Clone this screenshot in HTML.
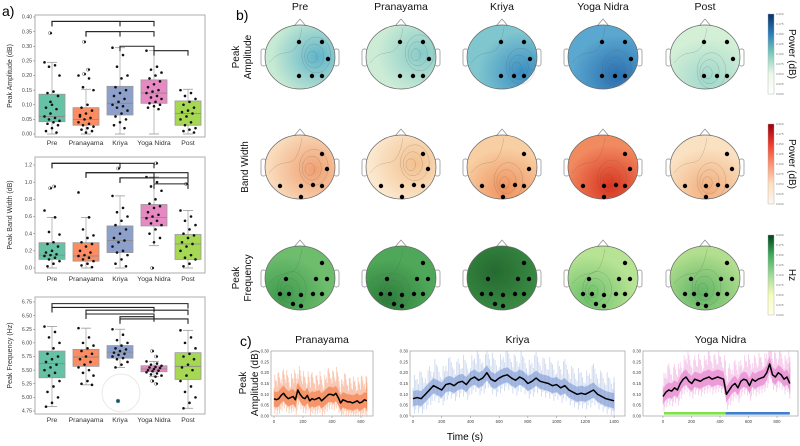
<!DOCTYPE html>
<html><head><meta charset="utf-8"><style>
html,body{margin:0;padding:0;background:#fff;}
svg{display:block;font-family:"Liberation Sans",sans-serif;}
</style></head><body>
<svg id="fig" width="800" height="446" viewBox="0 0 800 446" xmlns="http://www.w3.org/2000/svg">
<defs id="defs"></defs>
<text x="2" y="16" font-size="14">a)</text>
<text x="236" y="20" font-size="14">b)</text>
<text x="240" y="346" font-size="14">c)</text>
<g id="boxes"></g>
<g id="topos"></g>
<g id="ts"></g>
<text x="465" y="440" font-size="10" text-anchor="middle">Time (s)</text>
</svg>
<script>
// ---------- Panel a data ----------
const categories = ["Pre","Pranayama","Kriya","Yoga Nidra","Post"];
const boxColors = ["#66c2a5","#fc8d62","#8da0cb","#e78ac3","#a6d854"];
// [lowWhisker, q1, median, q3, highWhisker]
const ampStats = [[0,0.042,0.06,0.136,0.245],[0,0.03,0.05,0.09,0.153],[0,0.065,0.105,0.163,0.295],[0,0.105,0.14,0.185,0.285],[0,0.03,0.07,0.113,0.153]];
const ampOutliers = [[0.345],[0.315,0.22,0.205],[],[],[]];
const ampPoints = [
 [0.245,0.235,0.23,0.2,0.145,0.14,0.13,0.1,0.09,0.085,0.07,0.06,0.055,0.05,0.045,0.04,0.035,0.03,0.02,0.01,0.005,0.11],
 [0.2,0.19,0.16,0.15,0.1,0.09,0.08,0.07,0.06,0.055,0.05,0.04,0.035,0.03,0.025,0.02,0.015,0.01,0.005,0.065],
 [0.295,0.27,0.23,0.2,0.19,0.16,0.15,0.14,0.13,0.12,0.11,0.1,0.095,0.09,0.08,0.07,0.06,0.05,0.04,0.03,0.02],
 [0.285,0.23,0.22,0.21,0.2,0.19,0.18,0.17,0.16,0.15,0.145,0.14,0.13,0.125,0.12,0.11,0.105,0.1,0.095,0.09,0.085],
 [0.15,0.14,0.13,0.12,0.11,0.1,0.09,0.08,0.075,0.07,0.06,0.05,0.04,0.03,0.02,0.015,0.01,0.005]];
const ampBrackets = [[0,2,0.385],[0,3,0.385],[1,2,0.35],[1,3,0.35],[2,3,0.3],[3,4,0.285]];
const ampTicks = [0,0.05,0.10,0.15,0.20,0.25,0.30,0.35,0.40];

const bwStats = [[0,0.1,0.15,0.295,0.59],[0,0.08,0.14,0.295,0.59],[0,0.18,0.32,0.49,0.84],[0.26,0.49,0.59,0.74,1.06],[0,0.1,0.28,0.39,0.67]];
const bwOutliers = [[0.93,0.95],[],[1.16],[0.0,1.22],[0.98]];
const bwPoints = [
 [0.67,0.59,0.42,0.39,0.3,0.28,0.25,0.2,0.18,0.16,0.15,0.14,0.12,0.1,0.08,0.05,0.02],
 [0.88,0.59,0.45,0.38,0.35,0.3,0.28,0.25,0.2,0.18,0.15,0.14,0.12,0.1,0.08,0.05,0.03,0.01],
 [0.84,0.7,0.65,0.6,0.55,0.5,0.45,0.4,0.35,0.32,0.3,0.25,0.2,0.18,0.15,0.1,0.05,0.02],
 [1.06,1.0,0.95,0.9,0.8,0.75,0.72,0.7,0.65,0.62,0.6,0.58,0.55,0.52,0.5,0.45,0.4,0.35,0.3],
 [0.67,0.6,0.55,0.5,0.45,0.4,0.38,0.35,0.3,0.28,0.25,0.2,0.15,0.12,0.1,0.05,0.02]];
const bwBrackets = [[0,2,1.22],[0,3,1.22],[1,3,1.11],[1,4,1.11],[2,3,1.05],[2,4,1.05],[3,4,0.98]];
const bwTicks = [0,0.2,0.4,0.6,0.8,1.0,1.2];

const frStats = [[4.83,5.36,5.62,5.85,6.3],[5.23,5.57,5.74,5.88,6.27],[5.55,5.72,5.83,5.95,6.25],[5.38,5.47,5.52,5.58,5.66],[4.8,5.33,5.57,5.82,6.23]];
const frOutliers = [[],[],[],[5.85,5.75,5.3,5.25],[]];
const frPoints = [
 [6.3,6.2,6.1,6.0,5.9,5.8,5.75,5.7,5.65,5.6,5.55,5.5,5.45,5.4,5.3,5.2,5.1,5.0,4.9,4.83],
 [6.27,6.1,6.0,5.95,5.9,5.85,5.8,5.75,5.7,5.65,5.6,5.55,5.5,5.45,5.4,5.3,5.25,5.23],
 [6.25,6.15,6.05,6.0,5.95,5.9,5.88,5.85,5.82,5.8,5.78,5.75,5.72,5.7,5.65,5.6,5.55],
 [5.66,5.62,5.6,5.58,5.56,5.55,5.54,5.52,5.5,5.49,5.48,5.46,5.44,5.42,5.4,5.38],
 [6.23,6.1,6.0,5.9,5.8,5.75,5.7,5.6,5.55,5.5,5.4,5.3,5.2,5.1,5.0,4.9,4.8]];
const frBrackets = [[0,4,6.72],[0,3,6.65],[1,4,6.6],[1,3,6.53],[2,4,6.44],[2,3,6.48]];
const frTicks = [4.75,5.0,5.25,5.5,5.75,6.0,6.25,6.5,6.75];

// ---------- Panel c data ----------
const pranMean = [0.08,0.075,0.08,0.095,0.105,0.09,0.08,0.085,0.09,0.075,0.12,0.1,0.085,0.08,0.095,0.07,0.08,0.075,0.08,0.085,0.07,0.08,0.09,0.1,0.1,0.095,0.105,0.085,0.06,0.075,0.07,0.065,0.065,0.06,0.065,0.07,0.06,0.065,0.075,0.07];
const kriyaMean = [0.08,0.085,0.08,0.1,0.12,0.14,0.13,0.12,0.145,0.15,0.14,0.155,0.16,0.145,0.17,0.18,0.165,0.175,0.2,0.17,0.16,0.175,0.185,0.19,0.175,0.165,0.18,0.17,0.15,0.16,0.175,0.16,0.155,0.15,0.14,0.145,0.13,0.14,0.12,0.11,0.1,0.105,0.1,0.11,0.12,0.1,0.09,0.08,0.075,0.07];
const ynMean = [0.09,0.11,0.12,0.115,0.13,0.12,0.15,0.17,0.18,0.16,0.15,0.17,0.165,0.16,0.17,0.175,0.18,0.17,0.175,0.18,0.175,0.17,0.1,0.12,0.14,0.15,0.13,0.16,0.17,0.165,0.14,0.17,0.16,0.17,0.175,0.18,0.2,0.24,0.19,0.18,0.2,0.19,0.17,0.18,0.15];
const pranDuration = 640, kriyaDuration = 1400, ynDuration = 890;
const ynPhaseSplit = 440;
const tsTicksY = [0,0.05,0.10,0.15,0.20,0.25,0.30];

const NS = "http://www.w3.org/2000/svg";
function mk(tag, attrs, parent){ const e=document.createElementNS(NS,tag); for(const k in attrs) e.setAttribute(k,attrs[k]); if(parent) parent.appendChild(e); return e; }

// ---------- Box plots ----------
const boxesG = document.getElementById('boxes');
function boxPanel(cfg){
  const g = mk('g',{},boxesG);
  
  
  const x0=35,x1=205;
  const ys = v => cfg.yB - (v-cfg.vMin)/(cfg.vMax-cfg.vMin)*(cfg.yB-cfg.yT);
  const xs = i => 52 + i*34;
  const fr = mk('rect',{x:x0,y:cfg.fTop,width:x1-x0,height:cfg.fBot-cfg.fTop,fill:'none',stroke:'#999','stroke-width':0.8},g);
   
  cfg.ticks.forEach(t=>{
    const y=ys(t);
    mk('line',{x1:x0-2,x2:x0,y1:y,y2:y,stroke:'#777','stroke-width':0.5},g);
    const tx=mk('text',{x:x0-3,y:y+1.7,'font-size':5.2,'text-anchor':'end',fill:'#444'},g);
    tx.textContent=t.toFixed(cfg.dec);
     
  });
  const yt=mk('text',{x:0,y:0,'font-size':7,'text-anchor':'middle',fill:'#333',transform:`translate(12,${(cfg.fTop+cfg.fBot)/2}) rotate(-90)`},g);
  yt.textContent=cfg.title;
   
  categories.forEach((c,i)=>{
    const s=cfg.stats[i], x=xs(i), w=26;
    const wl=mk('line',{x1:x,x2:x,y1:ys(s[0]),y2:ys(s[4]),stroke:'#aaa','stroke-width':0.8},g);
     
    [s[0],s[4]].forEach(v=>mk('line',{x1:x-5,x2:x+5,y1:ys(v),y2:ys(v),stroke:'#999','stroke-width':0.8},g));
    const b=mk('rect',{x:x-w/2,y:ys(s[3]),width:w,height:ys(s[1])-ys(s[3]),fill:boxColors[i],stroke:'#999','stroke-width':0.8},g);
     
    mk('line',{x1:x-w/2,x2:x+w/2,y1:ys(s[2]),y2:ys(s[2]),stroke:'#888','stroke-width':0.8},g);
    cfg.points[i].forEach((v,j)=>{
      const dx=((j*7)%11-5)*1.5;
      const p=mk('circle',{cx:x+dx,cy:ys(v),r:1.3,fill:'#111'},g);
       
    });
    cfg.outliers[i].forEach((v,j)=>{
      const o=mk('circle',{cx:x+(j%2?2:-2),cy:ys(v),r:1.6,fill:'#fff',stroke:'#555','stroke-width':0.5},g);
       
      mk('circle',{cx:x+(j%2?3:-1),cy:ys(v),r:1.1,fill:'#111'},g);
    });
    const lab=mk('text',{x:x,y:cfg.fBot+8,'font-size':6.8,'text-anchor':'middle',fill:'#333'},g);
    lab.textContent=c;
     
  });
  cfg.brackets.forEach(br=>{
    const y=ys(br[2]);
    const p=mk('path',{d:`M${xs(br[0])},${y+5}V${y}H${xs(br[1])}V${y+5}`,fill:'none',stroke:'#222','stroke-width':1.1},g);
     
  });
  return g;
}
boxPanel({name:'peak-amplitude-boxplot',stats:ampStats,points:ampPoints,outliers:ampOutliers,brackets:ampBrackets,ticks:ampTicks,vMin:0,vMax:0.4,yT:17,yB:134,fTop:15,fBot:137,dec:2,title:'Peak Amplitude (dB)'});
boxPanel({name:'band-width-boxplot',stats:bwStats,points:bwPoints,outliers:bwOutliers,brackets:bwBrackets,ticks:bwTicks,vMin:0,vMax:1.2,yT:165,yB:268,fTop:157,fBot:273,dec:1,title:'Peak Band Width (dB)'});
const fg = boxPanel({name:'peak-frequency-boxplot',stats:frStats,points:frPoints,outliers:frOutliers,brackets:frBrackets,ticks:frTicks,vMin:4.75,vMax:6.75,yT:302,yB:411,fTop:297,fBot:414,dec:2,title:'Peak Frequency (Hz)'});
const ghost=mk('circle',{cx:121,cy:393,r:19,fill:'none',stroke:'#e4e4e4','stroke-width':0.8},fg);
 
mk('circle',{cx:118,cy:401,r:2,fill:'#1d4f6b',stroke:'#7aa','stroke-width':0.5},fg);

// ---------- Topomaps ----------
const topoG=document.getElementById('topos');
const defs=document.getElementById('defs');
const colX=[300,401,502,603,705];
const rowY=[57,167,278];
const rowLabels=[["Peak","Amplitude"],["Band Width"],["Peak","Frequency"]];
const cbLabels=["Power (dB)","Power (dB)","Hz"];
const cbStops=[["#08306b","#2c7fb8","#7fcdbb","#edf8e9","#ffffff"],["#99000d","#ef3b2c","#fc9272","#fee0c0","#fff5eb"],["#00441b","#41ab5d","#a1d99b","#f7fcb9","#ffffe5"]];
const topoBase=[["#c6ead3","#cdecd6","#80c6cf","#5aa7cf","#d3efd6"],["#f9dcbc","#fbe9cf","#f8cfa3","#f28a60","#fae1c1"],["#6dbd6d","#4fa859","#3a8b44","#b7e394","#b2df8f"]];
const topoSpot=[["#5fb4c9","#86cac8","#3a8dc2","#2a6fb0","#9fd7cc"],["#f0a072","#f3c08f","#ef915d","#d8341f","#f2ad7c"],["#3f9a4c","#2d7d3b","#236b2f","#6cbf6a","#5fb464"]];
const spotPos=[[[75,50],[80,45],[80,75],[70,80],[55,85]],[[70,55],[70,45],[55,85],[60,80],[55,85]],[[25,80],[30,85],[40,40],[30,80],[45,75]]];
const dotSets=[
 [[-1,-15],[22,-15],[28,2],[-1,19],[12,19],[22,19]],
 [[22,-13],[27,2],[-20,19],[1,19],[13,18],[22,19],[1,30]],
 [[22,-15],[-14,1],[16,1],[27,1],[-20,16],[-11,16],[1,17],[13,16],[22,16],[-7,26],[1,28]]];
categories.forEach((c,ci)=>{
  const t=mk('text',{x:colX[ci],y:10,'font-size':10.5,'text-anchor':'middle',fill:'#111'},topoG);
  t.textContent=c;
   
});
rowY.forEach((cy,ri)=>{
  const lines=rowLabels[ri];
  lines.forEach((ln,li)=>{
    const lx = lines.length===1 ? 248 : 239+li*12;
    const t=mk('text',{x:0,y:0,'font-size':10,'text-anchor':'middle',fill:'#111',transform:`translate(${lx},${cy}) rotate(-90)`},topoG);
    t.textContent=ln;
     
  });
  colX.forEach((cx,ci)=>{
    const id=`g${ri}_${ci}`;
    const rg=mk('radialGradient',{id:id,cx:spotPos[ri][ci][0]+'%',cy:spotPos[ri][ci][1]+'%',r:'65%'},defs);
    mk('stop',{offset:'0%','stop-color':topoSpot[ri][ci]},rg);
    mk('stop',{offset:'100%','stop-color':topoBase[ri][ci]},rg);
    const g=mk('g',{},topoG);
    
    
    const rx=35, ry=32;
    mk('path',{d:`M${cx-6},${cy-ry+1}L${cx},${cy-ry-6}L${cx+6},${cy-ry+1}`,fill:'#fff',stroke:'#888','stroke-width':0.7},g);
    mk('rect',{x:cx-rx-4,y:cy-8,width:5,height:17,rx:2,fill:'#fff',stroke:'#888','stroke-width':0.7},g);
    mk('rect',{x:cx+rx-1,y:cy-8,width:5,height:17,rx:2,fill:'#fff',stroke:'#888','stroke-width':0.7},g);
    mk('ellipse',{cx:cx,cy:cy,rx:rx,ry:ry,fill:`url(#${id})`,stroke:'#666','stroke-width':0.7},g);
    const sx=cx+(spotPos[ri][ci][0]-50)/50*rx*0.7, sy=cy+(spotPos[ri][ci][1]-50)/50*ry*0.7;
    [6,12,18].forEach((r,k)=>mk('ellipse',{cx:sx+k*2,cy:sy-k,rx:r*0.8,ry:r,fill:'none',stroke:'#555','stroke-opacity':0.35,'stroke-width':0.5},g));
    mk('path',{d:`M${cx-rx+4},${cy+6}C${cx-15},${cy-15} ${cx-5},${cy+10} ${cx+2},${cy-ry+3}`,fill:'none',stroke:'#555','stroke-opacity':0.35,'stroke-width':0.5},g);
    dotSets[ri].forEach(d=>{
      const e=mk('circle',{cx:cx+d[0],cy:cy+d[1],r:2.2,fill:'#000'},g);
       
    });
  });
  // colorbar
  const cbT=[14,124,235][ri];
  const lg=mk('linearGradient',{id:'cb'+ri,x1:0,y1:0,x2:0,y2:1},defs);
  cbStops[ri].forEach((s,k)=>mk('stop',{offset:(k*25)+'%','stop-color':s},lg));
  const cb=mk('rect',{x:768,y:cbT,width:6,height:80,fill:`url(#cb${ri})`,stroke:'#aaa','stroke-width':0.4},topoG);
   
  for(let k=0;k<=8;k++){ const t=mk('text',{x:776,y:cbT+1+k*10,'font-size':3,fill:'#777'},topoG); t.textContent='0.'+(200-k*25).toString().padStart(3,'0'); }
  const cl=mk('text',{x:0,y:0,'font-size':10,'text-anchor':'middle',fill:'#111',transform:`translate(789,${cbT+40}) rotate(90)`},topoG);
  cl.textContent=cbLabels[ri];
   
});

// ---------- Time series ----------
const tsG=document.getElementById('ts');
function tsPanel(cfg){
  const g=mk('g',{},tsG);
   
  const yB=416,yT=351;
  const ys=v=>yB-v/0.3*(yB-yT);
  const xs=t=>cfg.x0+t*cfg.pps;
  const n=cfg.mean.length, dt=cfg.dur/(n-1);
  cfg.mean.forEach((v,i)=>{
    for(let k=0;k<3;k++){
      const t=Math.min(cfg.dur,i*dt+k*dt/3);
      const up=0.05+((i*3+k*5)%7)*0.012, dn=0.04+((i*5+k*3)%5)*0.01;
      mk('line',{x1:xs(t),x2:xs(t),y1:ys(Math.min(0.3,v+up)),y2:ys(Math.max(0,v-dn)),stroke:cfg.color,'stroke-opacity':0.35,'stroke-width':0.9},g);
    }
  });
  let up='',dn='';
  cfg.mean.forEach((v,i)=>{ up+=`${i?'L':'M'}${xs(i*dt)},${ys(Math.min(0.3,v+0.035))}`; });
  for(let i=n-1;i>=0;i--){ dn+=`L${xs(i*dt)},${ys(Math.max(0,cfg.mean[i]-0.035))}`; }
  const band=mk('path',{d:up+dn+'Z',fill:cfg.color,'fill-opacity':0.55},g);
   
  let d=''; cfg.mean.forEach((v,i)=>{ d+=`${i?'L':'M'}${xs(i*dt)},${ys(v)}`; });
  const ln=mk('path',{d:d,fill:'none',stroke:'#000','stroke-width':1.5,'stroke-linejoin':'round'},g);
   
  mk('rect',{x:cfg.f0,y:yT,width:cfg.f1-cfg.f0,height:yB-yT,fill:'none',stroke:'#aaa','stroke-width':0.8},g);
  tsTicksY.forEach(t=>{
    const tx=mk('text',{x:cfg.f0-2,y:ys(t)+1.5,'font-size':4.3,'text-anchor':'end',fill:'#444'},g);
    tx.textContent=t.toFixed(2);
     
  });
  cfg.xTicks.forEach(t=>{
    mk('line',{x1:xs(t),x2:xs(t),y1:yB,y2:yB+2,stroke:'#888','stroke-width':0.5},g);
    const tx=mk('text',{x:xs(t),y:yB+7,'font-size':4.3,'text-anchor':'middle',fill:'#444'},g);
    tx.textContent=t;
     
  });
  const tt=mk('text',{x:(cfg.f0+cfg.f1)/2,y:343,'font-size':10.5,'text-anchor':'middle',fill:'#111'},g);
  tt.textContent=cfg.title;
   
  return {g,xs,ys};
}
tsPanel({name:'pranayama-timeseries',title:'Pranayama',mean:pranMean,dur:pranDuration,color:'#f26b2e',x0:274,pps:0.145,f0:271,f1:373,xTicks:[0,200,400,600]});
tsPanel({name:'kriya-timeseries',title:'Kriya',mean:kriyaMean,dur:kriyaDuration,color:'#6f8fd0',x0:413,pps:0.1436,f0:410,f1:625,xTicks:[0,200,400,600,800,1000,1200,1400]});
const yn=tsPanel({name:'yoga-nidra-timeseries',title:'Yoga Nidra',mean:ynMean,dur:ynDuration,color:'#e36fc8',x0:663,pps:0.1425,f0:643,f1:798,xTicks:[0,200,400,600,800]});
const gb=mk('rect',{x:yn.xs(0)+1,y:412,width:yn.xs(ynPhaseSplit)-yn.xs(0),height:2.6,fill:'#7de34b'},yn.g);
 
const bb=mk('rect',{x:yn.xs(ynPhaseSplit),y:412,width:yn.xs(ynDuration)-yn.xs(ynPhaseSplit),height:2.6,fill:'#3f7fcf'},yn.g);
 
[["Peak",246],["Amplitude (dB)",258]].forEach(p=>{
  const t=mk('text',{x:0,y:0,'font-size':10,'text-anchor':'middle',fill:'#111',transform:`translate(${p[1]},383) rotate(-90)`},tsG);
  t.textContent=p[0];
   
});
</script>
</body></html>
